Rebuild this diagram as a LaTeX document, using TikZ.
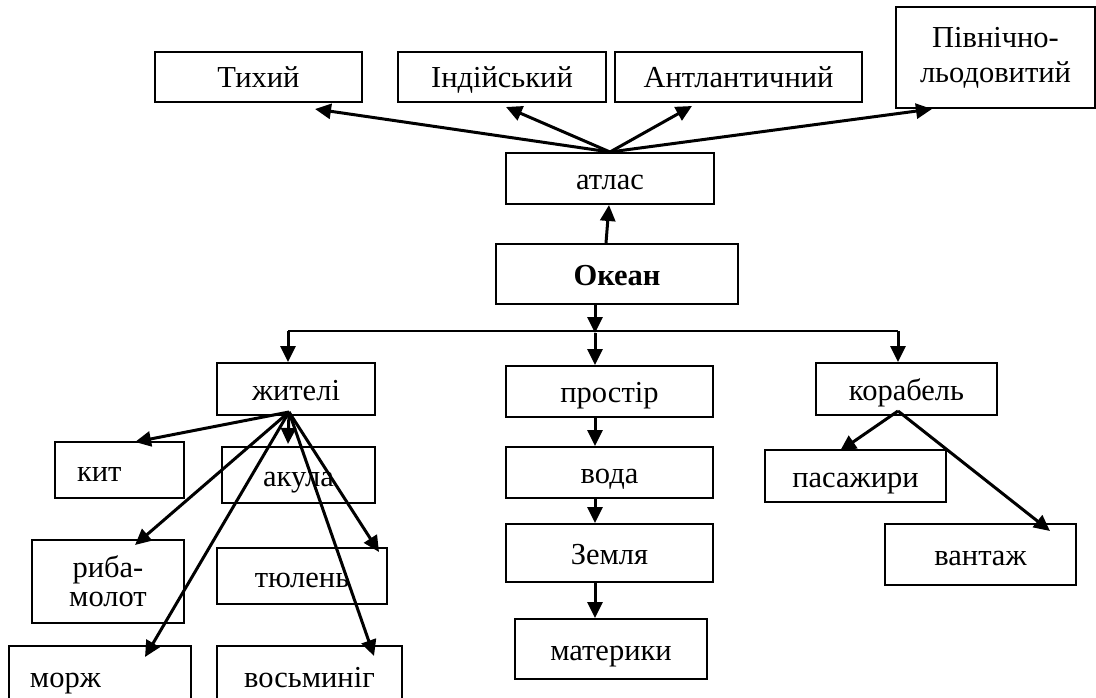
\documentclass[tikz,border=0pt]{standalone}
\usepackage{fontspec}
\setmainfont{Liberation Serif}
\usetikzlibrary{arrows.meta}

\begin{document}
\begin{tikzpicture}[x=1pt,y=-1pt,
  box/.style={draw, line width=2pt, inner sep=0pt, font=\fontsize{30.5}{35}\selectfont},
  word/.style={box, text height=22pt, text depth=0pt},
  arr/.style={line width=3pt, -{Triangle[length=16pt,width=15pt]}}]

\clip (0,0) rectangle (1096,698);

% Oceans
\node [word, minimum width=207pt, minimum height=50pt] (tykhyi) at (258.5,77) {Тихий};
\node [word, minimum width=208pt, minimum height=50pt] (indiiskyi) at (502,77) {Індійський};
\node [word, minimum width=247pt, minimum height=50pt] (atlant) at (738.5,77) {Антлантичний};
\node [box, minimum width=199pt, minimum height=101pt, align=center] (pivnich) at (995.5,57.5) {Північно-\\льодовитий};

% Atlas and the centre
\node [word, minimum width=208pt, minimum height=51pt] (atlas) at (610,178.5) {атлас};
\node [word, minimum width=242pt, minimum height=60pt] (okean) at (617,274) {\textbf{Океан}};

% Second row
\node [word, minimum width=158pt, minimum height=52pt] (zhyteli) at (296,389) {жителі};
\node [word, minimum width=207pt, minimum height=51pt] (prostir) at (609.5,391.5) {простір};
\node [word, minimum width=181pt, minimum height=52pt] (korabel) at (906.5,389) {корабель};

% Inhabitants
\node [word, minimum width=129pt, minimum height=56pt, inner xsep=22pt, text width=85pt, align=left] (kyt) at (119.5,470) {кит};
\node [word, minimum width=153pt, minimum height=56pt] (akula) at (298.5,475) {акула};
\node [box, minimum width=152pt, minimum height=83pt, align=center, font=\fontsize{30.5}{29}\selectfont] (ryba) at (108,581.5) {риба-\\молот};
\node [word, minimum width=170pt, minimum height=56pt] (tiulen) at (302,576) {тюлень};
\node [word, minimum width=182pt, minimum height=60pt, inner xsep=21pt, text width=140pt, align=left] (morzh) at (100,676) {морж};
\node [word, minimum width=185pt, minimum height=60pt] (vosmynih) at (309.5,676) {восьминіг};

% Space
\node [word, minimum width=207pt, minimum height=51pt] (voda) at (609.5,472.5) {вода};
\node [word, minimum width=207pt, minimum height=58pt] (zemlia) at (609.5,553) {Земля};
\node [word, minimum width=192pt, minimum height=60pt] (materyky) at (611,649) {материки};

% Ship
\node [word, minimum width=181pt, minimum height=52pt] (pasazhyry) at (855.5,476) {пасажири};
\node [word, minimum width=191pt, minimum height=61pt] (vantazh) at (980.5,554.5) {вантаж};

% Atlas to the oceans
\draw [arr] (atlas.north) -- ([xshift=56.5pt,yshift=-6pt]tykhyi.south);
\draw [arr] (atlas.north) -- ([xshift=4pt,yshift=-4pt]indiiskyi.south);
\draw [arr] (atlas.north) -- ([xshift=-46.5pt,yshift=-3pt]atlant.south);
\draw [arr] (atlas.north) -- ([xshift=-63.5pt]pivnich.south);
\draw [arr] ([xshift=-11pt]okean.north) -- ([xshift=-1pt]atlas.south);

% Bus below the ocean
\coordinate (bus) at ([xshift=-22pt,yshift=-28pt]okean.south);
\coordinate (bus left) at ([xshift=-8pt,yshift=31pt]zhyteli.north);
\coordinate (bus right) at ([xshift=-8.5pt,yshift=31pt]korabel.north);
\draw [line width=2pt] (bus left) -- (bus right);
\draw [arr] ([xshift=-22pt]okean.south) -- (bus);
\draw [arr] (bus left) -- ([xshift=-8pt]zhyteli.north);
\draw [arr] (bus right) -- ([xshift=-8.5pt]korabel.north);
\draw [arr] (bus) -- ([xshift=-14.5pt]prostir.north);

% Chain of space
\draw [arr] ([xshift=-14.5pt]prostir.south) -- ([xshift=-14.5pt]voda.north);
\draw [arr] ([xshift=-14.5pt]voda.south) -- ([xshift=-14.5pt]zemlia.north);
\draw [arr] ([xshift=-14.5pt]zemlia.south) -- ([xshift=-16pt]materyky.north);

% Inhabitants fan
\coordinate (zh) at ([xshift=-7pt,yshift=4pt]zhyteli.south);
\draw [arr] (zh) -- ([xshift=15.5pt,yshift=-1pt]kyt.north);
\draw [arr] (zh) -- ([xshift=-10.5pt,yshift=2pt]akula.north);
\draw [arr] (zh) -- ([xshift=27pt,yshift=-6pt]ryba.north);
\draw [arr] (zh) -- ([xshift=77pt,yshift=-5pt]tiulen.north);
\draw [arr] (zh) -- ([xshift=45pt,yshift=-12pt]morzh.north);
\draw [arr] (zh) -- ([xshift=64.5pt,yshift=-11pt]vosmynih.north);

% Ship fan
\coordinate (kb) at ([xshift=-8.5pt,yshift=5pt]korabel.south);
\draw [arr] (kb) -- ([xshift=-15.5pt,yshift=-2pt]pasazhyry.north);
\draw [arr] (kb) -- ([xshift=69.5pt,yshift=-8pt]vantazh.north);

\end{tikzpicture}
\end{document}
